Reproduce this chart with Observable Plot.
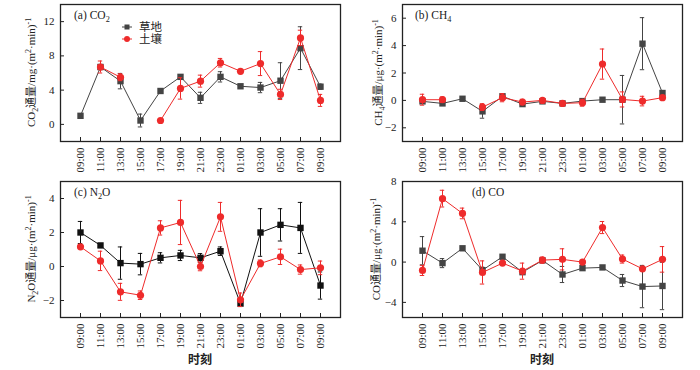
<!DOCTYPE html>
<html><head><meta charset="utf-8">
<script src="https://cdn.jsdelivr.net/npm/d3@7"></script>
<script src="https://cdn.jsdelivr.net/npm/@observablehq/plot@0.6"></script>
<style>
body{margin:0;background:#fff;}
#wrap{position:relative;width:700px;height:370px;overflow:hidden;background:#fff;}
.panel{position:absolute;}
</style></head><body><div id="wrap"></div>
<script>
const times = ["09:00","11:00","13:00","15:00","17:00","19:00","21:00","23:00","01:00","03:00","05:00","07:00","09:00"];
const seriesNames = ["草地","土壤"];

const co2Grass    = [1.0, 6.7, 5.05, 0.45, 3.9, 5.55, 3.1, 5.55, 4.45, 4.3, 5.1, 8.9, 4.4];
const co2GrassErr = [0, 0.3, 0.9, 0.75, 0, 0, 0.65, 0.6, 0, 0.6, 2.1, 2.5, 0.3];
const co2Soil     = [null, 6.7, 5.5, null, 0.45, 4.2, 5.05, 7.2, 6.2, 7.1, 3.5, 10.1, 2.8];
const co2SoilErr  = [0, 0.7, 0.4, 0, 0, 1.25, 0.7, 0.5, 0, 1.4, 0.6, 0.9, 0.7];

const ch4Grass    = [-0.07, -0.22, 0.12, -0.8, 0.3, -0.27, -0.07, -0.22, -0.05, 0.05, 0.05, 4.14, 0.54];
const ch4GrassErr = [0, 0, 0, 0.5, 0.15, 0, 0, 0, 0, 0, 1.77, 1.9, 0.15];
const ch4Soil     = [0.05, 0.05, null, -0.49, 0.2, -0.12, 0, -0.22, -0.17, 2.65, 0.07, -0.05, 0.2];
const ch4SoilErr  = [0.4, 0.2, 0, 0.25, 0.3, 0.2, 0, 0, 0.25, 1.1, 0.55, 0.35, 0.15];

const n2oGrass    = [2.0, 1.24, 0.2, 0.14, 0.51, 0.65, 0.51, 0.9, -2.18, 2.0, 2.45, 2.27, -1.12];
const n2oGrassErr = [0.65, 0.1, 0.95, 0.63, 0.3, 0.3, 0.25, 0.25, 0, 1.4, 0.95, 1.5, 0.8];
const n2oSoil     = [1.16, 0.33, -1.49, -1.69, 2.27, 2.59, 0.0, 2.92, -1.96, 0.18, 0.57, -0.18, -0.08];
const n2oSoilErr  = [0.1, 0.57, 0.5, 0.25, 0.42, 1.3, 0.25, 0.85, 0.4, 0.2, 0.45, 0.27, 0.4];

const coGrass     = [1.13, -0.1, 1.37, -0.8, 0.53, -1.0, 0.17, -1.23, -0.6, -0.53, -1.83, -2.43, -2.37];
const coGrassErr  = [1.4, 0.45, 0, 0.3, 0, 0, 0, 0.8, 0, 0, 0.6, 2.1, 2.35];
const coSoil      = [-0.83, 6.3, 4.83, -1.03, -0.1, -0.9, 0.2, 0.27, 0.0, 3.43, 0.3, -0.67, 0.27];
const coSoilErr   = [0.5, 0.83, 0.53, 1.15, 0, 0.8, 0.3, 1.05, 0, 0.6, 0.4, 0, 1.27];

const FONT = '"Liberation Serif","Times New Roman","Noto Sans CJK SC",serif';
const GRAY = "#444444", BLACK = "#111111", RED = "#ee2b2b";

const panels = [
  {left:0, top:0, height:185, mT:4, mL:60, mR:10, mB:44, domain:[-2,14], ticks:[0,4,8,12],
   grass:co2Grass, grassErr:co2GrassErr, soil:co2Soil, soilErr:co2SoilErr, gcol:GRAY,
   tag:["(a) CO",["sub","2"]], tagX:74, titleX:31,
   title:["CO",["sub","2"],"通量/mg·(m",["sup","2"],"·min)",["sup","-1"]], legend:true, xlabel:false},
  {left:350, top:0, height:185, mT:4, mL:52, mR:18, mB:44, domain:[-3,7], ticks:[-2,0,2,4,6],
   grass:ch4Grass, grassErr:ch4GrassErr, soil:ch4Soil, soilErr:ch4SoilErr, gcol:GRAY,
   tag:["(b) CH",["sub","4"]], tagX:65, titleX:28,
   title:["CH",["sub","4"],"通量/μg·(m",["sup","2"],"·min)",["sup","-1"]], legend:false, xlabel:false},
  {left:0, top:170, height:200, mT:11, mL:60, mR:10, mB:53, domain:[-3,5], ticks:[-2,0,2,4],
   grass:n2oGrass, grassErr:n2oGrassErr, soil:n2oSoil, soilErr:n2oSoilErr, gcol:BLACK,
   tag:["(c) N",["sub","2"],"O"], tagX:74, titleX:31,
   title:["N",["sub","2"],"O通量/μg·(m",["sup","2"],"·min)",["sup","-1"]], legend:false, xlabel:true},
  {left:350, top:170, height:200, mT:11, mL:52, mR:18, mB:53, domain:[-5.5,8], ticks:[-4,0,4,8],
   grass:coGrass, grassErr:coGrassErr, soil:coSoil, soilErr:coSoilErr, gcol:GRAY,
   tag:["(d) CO"], tagX:122, titleX:26,
   title:["CO通量/μg·(m",["sup","2"],"·min)",["sup","-1"]], legend:false, xlabel:true}
];

function rows(vals, errs){ return vals.map((v,i)=>({i, v: v==null?NaN:v, e: errs[i]})); }

function errMarks(data, color){
  const d = data.filter(r => !isNaN(r.v) && r.e > 0);
  return [
    Plot.ruleX(d, {x:"i", y1:r=>r.v-r.e, y2:r=>r.v+r.e, stroke:color, strokeWidth:1}),
    Plot.ruleY(d, {x1:r=>r.i-0.11, x2:r=>r.i+0.11, y:r=>r.v+r.e, stroke:color, strokeWidth:1}),
    Plot.ruleY(d, {x1:r=>r.i-0.11, x2:r=>r.i+0.11, y:r=>r.v-r.e, stroke:color, strokeWidth:1})
  ];
}

function addRich(sel, parts, size){
  let pending = 0;
  parts.forEach(p=>{
    if (typeof p === "string") {
      const ts = sel.append("tspan").text(p);
      if (pending) { ts.attr("dy", pending); pending = 0; }
    } else {
      const [kind, txt] = p;
      const sh = kind === "sub" ? 3 : -4;
      sel.append("tspan").attr("dy", sh - (pending||0)).attr("font-size", size*0.72).text(txt);
      pending = -sh;
    }
  });
}

const wrap = document.getElementById("wrap");
panels.forEach(p=>{
  const g = rows(p.grass, p.grassErr), s = rows(p.soil, p.soilErr);
  const svg = Plot.plot({
    width:350, height:p.height,
    marginLeft:p.mL, marginRight:p.mR, marginTop:p.mT, marginBottom:p.mB,
    style:{fontFamily:FONT, fontSize:"11px", color:"#222", background:"transparent", overflow:"visible"},
    x:{domain:[-1,13]},
    y:{domain:p.domain},
    marks:[
      ...errMarks(g, p.gcol),
      Plot.line(g, {x:"i", y:"v", stroke:p.gcol, strokeWidth:1}),
      Plot.dot(g, {x:"i", y:"v", symbol:"square", fill:p.gcol, r:3.6}),
      ...errMarks(s, RED),
      Plot.line(s, {x:"i", y:"v", stroke:RED, strokeWidth:1}),
      Plot.dot(s, {x:"i", y:"v", symbol:"circle", fill:RED, r:3.6}),
      Plot.frame({stroke:"#222", strokeWidth:1.3}),
      Plot.axisX({ticks:d3.range(times.length), tickFormat:i=>times[i], tickRotate:-90, tickSize:-4, tickPadding:10, label:null, fontSize:11}),
      Plot.axisY({ticks:p.ticks, tickSize:-4, tickPadding:10, label:null, fontSize:11})
    ]
  });
  svg.classList.add("panel");
  svg.style.left = p.left + "px";
  svg.style.top = p.top + "px";
  wrap.appendChild(svg);
  const S = d3.select(svg);
  const fy = p.mT, by = p.height - p.mB;
  const t = S.append("text").attr("font-family", FONT).attr("font-size", 11).attr("fill", "#222")
    .attr("text-anchor", "middle")
    .attr("transform", `translate(${p.titleX},${(fy+by)/2}) rotate(-90)`).attr("dy", "0.35em");
  addRich(t, p.title, 11);
  const tg = S.append("text").attr("font-family", FONT).attr("font-size", 11.5).attr("fill", "#222")
    .attr("text-anchor", "start")
    .attr("x", p.tagX).attr("y", fy + 15);
  addRich(tg, p.tag, 11.5);
  if (p.legend) {
    const lx = 122, ly = [27, 39], cols = [GRAY, RED];
    seriesNames.forEach((name, k)=>{
      S.append("line").attr("x1", lx).attr("x2", lx+10).attr("y1", ly[k]).attr("y2", ly[k]).attr("stroke", cols[k]).attr("stroke-width", 1);
      if (k === 0) S.append("rect").attr("x", lx+2.5).attr("y", ly[k]-2.5).attr("width", 5).attr("height", 5).attr("fill", cols[k]);
      else S.append("circle").attr("cx", lx+5).attr("cy", ly[k]).attr("r", 3).attr("fill", cols[k]);
      S.append("text").attr("font-family", FONT).attr("font-size", 11.5).attr("fill", "#222")
        .attr("text-anchor", "start")
        .attr("x", lx+17).attr("y", ly[k]).attr("dy", "0.36em").text(name);
    });
  }
  if (p.xlabel) {
    S.append("text").attr("font-family", FONT).attr("font-size", 12).attr("fill", "#222")
      .attr("font-weight", "bold")
      .attr("text-anchor", "middle").attr("x", (p.mL + 350 - p.mR)/2).attr("y", 190).attr("dy", "0.35em").text("时刻");
  }
});
</script></body></html>
